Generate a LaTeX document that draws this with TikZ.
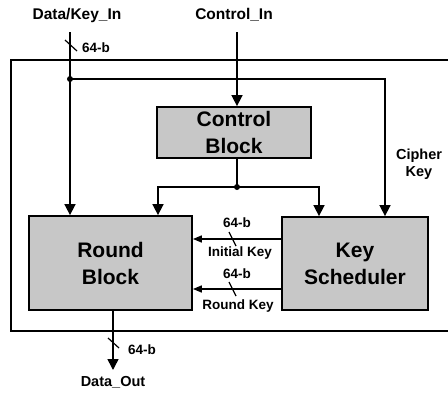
\documentclass[tikz,border=0pt]{standalone}
\usepackage{fontspec}
\setmainfont{Liberation Sans}
\usetikzlibrary{arrows.meta}

\begin{document}
\begin{tikzpicture}[x=1pt,y=-1pt,line width=1.6pt,
  block/.style={draw,line width=1.8pt,fill=black!22,inner sep=0pt,align=center,
    font=\fontsize{21}{27}\selectfont\bfseries},
  biglbl/.style={font=\fontsize{15.5}{18}\selectfont\bfseries,inner sep=0pt},
  midlbl/.style={font=\fontsize{14.5}{18}\selectfont\bfseries,inner sep=0pt},
  smalllbl/.style={font=\fontsize{13.5}{16}\selectfont\bfseries,inner sep=0pt},
  arr/.style={-{Triangle[width=11pt,length=11pt]}},
  arrs/.style={-{Triangle[width=7pt,length=9pt]}},
  slashmark/.style={line width=1.2pt},
  dot/.style={circle,fill=black,inner sep=0pt,minimum size=6pt}]

\clip (0,0) rectangle (448,394);
\fill[white] (0,0) rectangle (448,394);

% enclosing frame (runs off to the right)
\draw[line width=2pt] (460,60) -- (11,60) -- (11,331) -- (460,331);

% blocks
\node[block,minimum width=154pt,minimum height=51pt] (cb) at (234,132.5) {Control\\Block};
\node[block,minimum width=163pt,minimum height=94pt] (rb) at (110.5,263) {Round\\Block};
\node[block,minimum width=146pt,minimum height=93pt] (ks) at (355,263.5) {Key\\Scheduler};

% external labels
\node[biglbl] (lin) at (77,15) {Data/Key\_In};
\node[biglbl] (lcin) at (234,15) {Control\_In};
\node[midlbl] (lout) at (113,382) {Data\_Out};
\node[midlbl,align=center] (lck) at (419,164) {Cipher\\[-1pt]Key};

% wire endpoints and junctions
\coordinate (din) at (70,32);
\coordinate (cin) at (237,32);
\node[dot] (j1) at (70,79) {};
\node[dot] (j2) at (237,187) {};
\coordinate (ck) at (385,79);
\coordinate (lft) at (158,187);
\coordinate (rgt) at (319,187);
\coordinate (dout) at (113,370);

% data / key input
\draw[arr] (din) -- (din |- rb.north);
\draw[arr] (j1.center) -- (ck) -- (ck |- ks.north);

% control path
\draw[arr] (cin) -- (cin |- cb.north);
\draw (cb.south -| j2) -- (j2.center);
\draw[arr] (j2.center) -- (lft) -- (lft |- rb.north);
\draw[arr] (j2.center) -- (rgt) -- (rgt |- ks.north);

% key scheduler to round block
\coordinate (ik) at (0,239);
\coordinate (rk) at (0,289);
\draw[arrs] (ks.west |- ik) -- (rb.east |- ik);
\draw[arrs] (ks.west |- rk) -- (rb.east |- rk);

% output
\draw[arr] (dout |- rb.south) -- (dout);

% bus-width marks
\draw[slashmark] (65,40) -- (77,51);
\node[smalllbl] (w1) at (96,48) {64-b};
\draw[slashmark] (108,338) -- (119,348);
\node[smalllbl] (w2) at (142,350) {64-b};
\draw[slashmark] (229,232) -- (236,246);
\node[smalllbl] (w3) at (237,223) {64-b};
\node[smalllbl] (l3) at (240,253) {Initial Key};
\draw[slashmark] (229,282) -- (236,296);
\node[smalllbl] (w4) at (237,274) {64-b};
\node[smalllbl] (l4) at (238,306) {Round Key};
\end{tikzpicture}
\end{document}
